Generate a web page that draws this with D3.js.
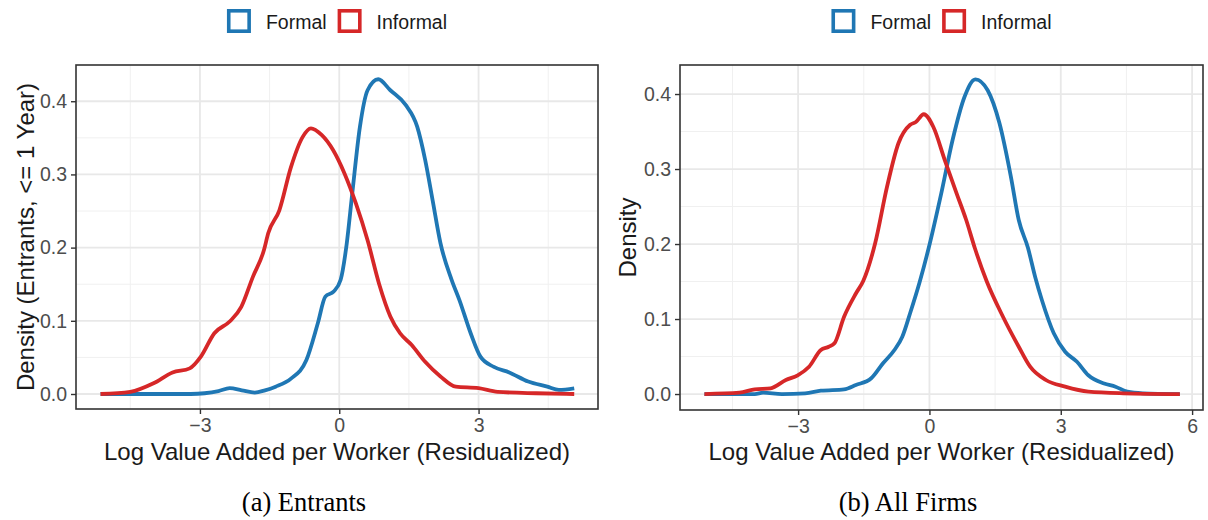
<!DOCTYPE html>
<html>
<head>
<meta charset="utf-8">
<script src="https://cdn.jsdelivr.net/npm/d3@7"></script>
<style>
  body { margin: 0; background: #fff; }
  svg { display: block; }
</style>
</head>
<body>
<svg id="chart" width="1208" height="520"></svg>
<script>
// ---- data -------------------------------------------------------------
const seriesNames  = ["Formal", "Informal"];
const seriesColors = ["#1f77b4", "#d62728"];

// (a) Entrants: kernel density estimates
const entrantsFormalX = [-5.14,-4.5,-3.8,-3.2,-2.9,-2.6,-2.36,-2.1,-1.82,-1.6,-1.37,-1.04,-0.71,-0.46,-0.30,-0.12,0.03,0.15,0.28,0.445,0.61,0.84,1.10,1.43,1.68,1.85,2.01,2.18,2.42,2.59,2.83,3.04,3.33,3.66,4.07,4.48,4.73,5.06];
const entrantsFormalY = [0,0,0,0,0.001,0.004,0.008,0.005,0.002,0.005,0.01,0.021,0.046,0.097,0.133,0.14,0.156,0.2,0.274,0.365,0.415,0.430,0.415,0.395,0.365,0.32,0.265,0.206,0.156,0.128,0.083,0.051,0.037,0.0295,0.017,0.01,0.0055,0.0077];
const entrantsInformalX = [-5.14,-4.5,-4.0,-3.59,-3.22,-2.98,-2.69,-2.36,-2.11,-1.86,-1.62,-1.53,-1.29,-1.04,-0.79,-0.61,-0.38,-0.13,0.115,0.36,0.61,0.86,1.10,1.31,1.56,1.85,2.18,2.51,3.0,3.41,4.24,5.06];
const entrantsInformalY = [0,0.003,0.0146,0.0295,0.035,0.051,0.083,0.099,0.119,0.160,0.197,0.2195,0.251,0.31,0.351,0.363,0.354,0.333,0.301,0.26,0.21,0.15,0.106,0.083,0.067,0.044,0.024,0.01,0.008,0.003,0.001,0];

// (b) All firms: kernel density estimates
const allFormalX = [-5.14,-4.5,-3.99,-3.8,-3.37,-2.84,-2.48,-1.95,-1.68,-1.33,-1.06,-0.80,-0.62,-0.44,-0.22,-0.02,0.27,0.53,0.80,1.05,1.33,1.60,1.86,2.04,2.25,2.42,2.57,2.84,3.10,3.37,3.63,3.99,4.25,4.52,4.87,5.72];
const allFormalY = [0,0,0,0.0018,0,0.001,0.0044,0.0062,0.012,0.021,0.041,0.0587,0.0764,0.108,0.150,0.194,0.2676,0.339,0.396,0.4196,0.405,0.361,0.29,0.232,0.195,0.155,0.125,0.081,0.0564,0.043,0.025,0.014,0.0098,0.0031,0.001,0];
const allInformalX = [-5.14,-4.34,-3.99,-3.63,-3.28,-3.01,-2.75,-2.48,-2.30,-2.17,-1.95,-1.68,-1.51,-1.24,-0.97,-0.71,-0.44,-0.31,-0.13,0.09,0.35,0.62,0.84,1.04,1.31,1.68,2.04,2.30,2.66,3.10,3.63,4.43,5.72];
const allInformalY = [0,0.0018,0.0062,0.0076,0.0187,0.025,0.0364,0.0587,0.063,0.0676,0.103,0.134,0.151,0.201,0.276,0.334,0.359,0.3627,0.373,0.356,0.312,0.2676,0.232,0.194,0.15,0.103,0.063,0.0364,0.0187,0.0098,0.0031,0.001,0];

const yTicks       = [0, 0.1, 0.2, 0.3, 0.4];
const yMinorTicks  = [0.05, 0.15, 0.25, 0.35];
const xTicksA      = [-3, 0, 3];
const xTicksB      = [-3, 0, 3, 6];
const xMinorTicks  = [-4.5, -1.5, 1.5, 4.5];
const xTitle       = "Log Value Added per Worker (Residualized)";
const yTitles      = ["Density (Entrants, <= 1 Year)", "Density"];
const captions     = ["(a) Entrants", "(b) All Firms"];

// ---- layout -----------------------------------------------------------
const svg = d3.select("#chart");
const sans = "'Liberation Sans', Arial, Helvetica, sans-serif";
const serif = "'Liberation Serif', 'Times New Roman', serif";

const panels = [
  {
    left: 76, right: 598, top: 65, bottom: 409,
    xDomain: [-5.669, 5.572], yDomain: [-0.0205, 0.4495],
    xTicks: xTicksA, yTitle: yTitles[0], yTitleX: 25, caption: captions[0], captionX: 304,
    series: [
      { xs: entrantsFormalX,   ys: entrantsFormalY },
      { xs: entrantsInformalX, ys: entrantsInformalY }
    ]
  },
  {
    left: 680, right: 1203, top: 65, bottom: 410,
    xDomain: [-5.698, 6.249], yDomain: [-0.0213, 0.4387],
    xTicks: xTicksB, yTitle: yTitles[1], yTitleX: 627, caption: captions[1], captionX: 908,
    series: [
      { xs: allFormalX,   ys: allFormalY },
      { xs: allInformalX, ys: allInformalY }
    ]
  }
];

panels.forEach(p => {
  const x = d3.scaleLinear().domain(p.xDomain).range([p.left, p.right]);
  const y = d3.scaleLinear().domain(p.yDomain).range([p.bottom, p.top]);
  const g = svg.append("g");

  // minor grid
  g.selectAll(".vminor").data(xMinorTicks.filter(t => t > p.xDomain[0] && t < p.xDomain[1]))
    .join("line")
    .attr("x1", d => x(d)).attr("x2", d => x(d))
    .attr("y1", p.top).attr("y2", p.bottom)
    .attr("stroke", "#f0f0f0").attr("stroke-width", 1);
  g.selectAll(".hminor").data(yMinorTicks)
    .join("line")
    .attr("x1", p.left).attr("x2", p.right)
    .attr("y1", d => y(d)).attr("y2", d => y(d))
    .attr("stroke", "#f0f0f0").attr("stroke-width", 1);

  // major grid
  g.selectAll(".vmajor").data(p.xTicks)
    .join("line")
    .attr("x1", d => x(d)).attr("x2", d => x(d))
    .attr("y1", p.top).attr("y2", p.bottom)
    .attr("stroke", "#e8e8e8").attr("stroke-width", 1.8);
  g.selectAll(".hmajor").data(yTicks)
    .join("line")
    .attr("x1", p.left).attr("x2", p.right)
    .attr("y1", d => y(d)).attr("y2", d => y(d))
    .attr("stroke", "#e8e8e8").attr("stroke-width", 1.8);

  // density curves
  const line = d3.line()
    .x(d => x(d[0])).y(d => y(d[1]))
    .curve(d3.curveMonotoneX);
  p.series.forEach((s, i) => {
    const pts = s.xs.map((v, k) => [v, s.ys[k]]);
    g.append("path")
      .datum(pts)
      .attr("d", line)
      .attr("fill", "none")
      .attr("stroke", seriesColors[i])
      .attr("stroke-width", 3.8)
      .attr("stroke-linejoin", "round")
      .attr("stroke-linecap", "butt");
  });

  // panel border
  g.append("rect")
    .attr("x", p.left).attr("y", p.top)
    .attr("width", p.right - p.left).attr("height", p.bottom - p.top)
    .attr("fill", "none").attr("stroke", "#333333").attr("stroke-width", 1.6);

  // axes
  const xAxis = d3.axisBottom(x).tickValues(p.xTicks).tickSize(5).tickPadding(4)
    .tickFormat(d => d < 0 ? "\u2212" + Math.abs(d) : String(d));
  const xa = g.append("g").attr("transform", `translate(0,${p.bottom})`).call(xAxis);
  const yAxis = d3.axisLeft(y).tickValues(yTicks).tickSize(5).tickPadding(4)
    .tickFormat(d3.format(".1f"));
  const ya = g.append("g").attr("transform", `translate(${p.left},0)`).call(yAxis);
  [xa, ya].forEach(a => {
    a.select(".domain").remove();
    a.selectAll(".tick line").attr("stroke", "#333333").attr("stroke-width", 1.4);
    a.selectAll(".tick text").attr("fill", "#4d4d4d")
      .style("font-family", sans).style("font-size", "19.5px");
  });

  // axis titles
  g.append("text")
    .attr("x", (p.left + p.right) / 2).attr("y", 460)
    .attr("text-anchor", "middle")
    .style("font-family", sans).style("font-size", "24px").attr("fill", "#1a1a1a")
    .text(xTitle);
  g.append("text")
    .attr("transform", `translate(${p.yTitleX + 8.5},${(p.top + p.bottom) / 2}) rotate(-90)`)
    .attr("text-anchor", "middle")
    .style("font-family", sans).style("font-size", "24px").attr("fill", "#1a1a1a")
    .text(p.yTitle);

  // caption
  g.append("text")
    .attr("x", p.captionX).attr("y", 511)
    .attr("text-anchor", "middle")
    .style("font-family", serif).style("font-size", "26.5px").attr("fill", "#000")
    .text(p.caption);

  // legend, centred over the panel
  const lg = g.append("g");
  const box = 24, stroke = 3.6, gapKey = 15, gapItem = 11;
  let cx = 0;
  seriesNames.forEach((name, i) => {
    lg.append("rect")
      .attr("x", cx + stroke / 2).attr("y", 9 + stroke / 2)
      .attr("width", box - stroke).attr("height", box - stroke)
      .attr("fill", "#fff").attr("stroke", seriesColors[i]).attr("stroke-width", stroke);
    const t = lg.append("text")
      .attr("x", cx + box + gapKey).attr("y", 28.5)
      .style("font-family", sans).style("font-size", "19.5px").attr("fill", "#1a1a1a")
      .text(name);
    cx += box + gapKey + t.node().getComputedTextLength() + gapItem;
  });
  const total = cx - gapItem;
  lg.attr("transform", `translate(${(p.left + p.right) / 2 - total / 2},0)`);
});
</script>
</body>
</html>
